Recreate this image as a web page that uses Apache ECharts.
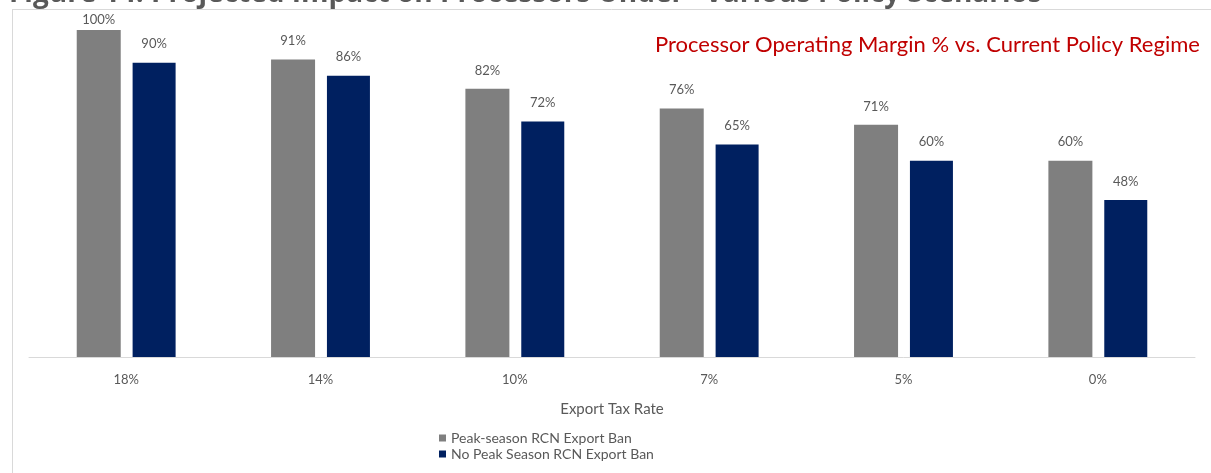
<!DOCTYPE html>
<html><head><meta charset="utf-8">
<script src="https://cdn.jsdelivr.net/npm/echarts@6/dist/echarts.min.js"></script>
<style>html,body{margin:0;padding:0;background:#fff}#c{width:1211px;height:473px}</style>
</head><body><div id="c"></div>
<script>
const categories = ['18%', '14%', '10%', '7%', '5%', '0%'];
const peakBan = [100, 91, 82, 76, 71, 60];
const noPeakBan = [90, 86, 72, 65, 60, 48];
const seriesNames = ['Peak-season RCN Export Ban', 'No Peak Season RCN Export Ban'];
const titleText = 'Figure 14: Projected Impact on Processors Under "Various Policy Scenarios';
const subtitleText = 'Processor Operating Margin % vs. Current Policy Regime';
const axisName = 'Export Tax Rate';

const chart = echarts.init(document.getElementById('c'), null, {renderer: 'canvas'});
const lbl = {show: true, position: 'top', distance: 12, color: '#595959', fontSize: 13, fontFamily: 'Lato', formatter: p => p.value + '%'};
const withTopLabel = arr => arr.map(v => v >= 100 ? {value: v, label: {distance: 4}} : v);
chart.setOption({
  animation: false,
  graphic: [
    {type: 'text', style: {x: 9, y: 8, verticalAlign: 'bottom', text: titleText, font: 'bold 28px "Open Sans"', fill: '#595959'}},
    {type: 'rect', shape: {x: 12, y: 9, width: 1199, height: 464}, style: {fill: '#fff', stroke: 'none'}, z: -1},
    {type: 'line', shape: {x1: 12, y1: 9.5, x2: 1211, y2: 9.5}, style: {stroke: '#d9d9d9', lineWidth: 1}},
    {type: 'line', shape: {x1: 12.5, y1: 9, x2: 12.5, y2: 473}, style: {stroke: '#d9d9d9', lineWidth: 1}},
    {type: 'text', style: {x: 655, y: 45, verticalAlign: 'middle', text: subtitleText, font: '22px Lato', fill: '#c00000'}}
  ],
  grid: {left: 29, right: 16, top: 30, bottom: 116},
  legend: {
    orient: 'vertical', left: 434, top: 426, itemWidth: 7, itemHeight: 7, itemGap: 2,
    icon: 'rect', textStyle: {color: '#595959', fontSize: 14, fontFamily: 'Lato'},
    data: seriesNames
  },
  xAxis: {
    type: 'category', data: categories,
    axisLine: {lineStyle: {color: '#d9d9d9'}}, axisTick: {show: false},
    axisLabel: {color: '#595959', fontSize: 13, fontFamily: 'Lato', margin: 16},
    name: axisName, nameLocation: 'middle', nameGap: 45,
    nameTextStyle: {color: '#595959', fontSize: 15, fontFamily: 'Lato'}
  },
  yAxis: {type: 'value', min: 0, max: 100, show: false, splitLine: {show: false}},
  series: [
    {name: seriesNames[0], type: 'bar', data: withTopLabel(peakBan), barWidth: 44, barGap: '27%', itemStyle: {color: '#7f7f7f'}, label: lbl},
    {name: seriesNames[1], type: 'bar', data: noPeakBan, barWidth: 43, itemStyle: {color: '#002060'}, label: lbl}
  ]
});
</script></body></html>
